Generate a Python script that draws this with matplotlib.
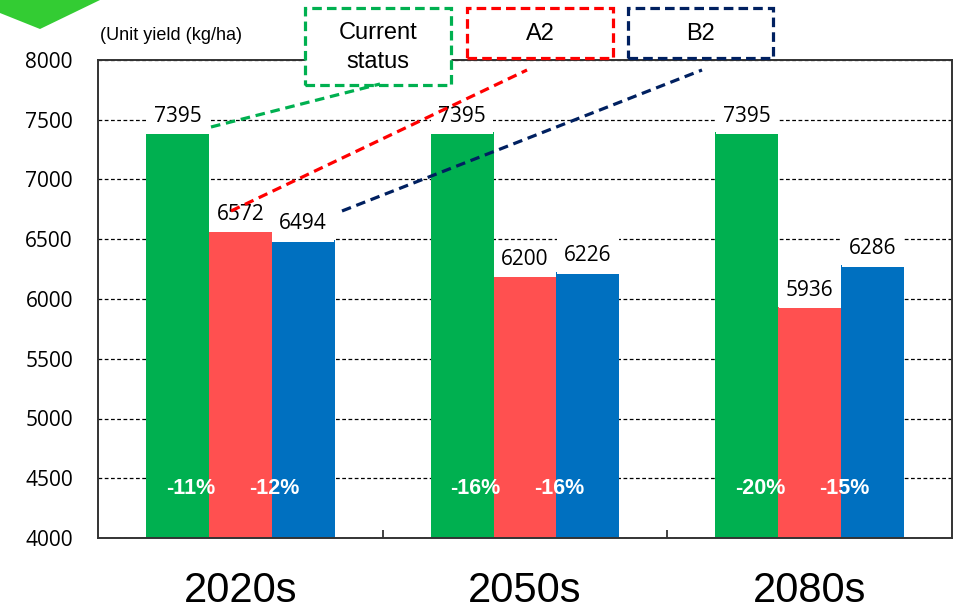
import matplotlib
matplotlib.use("Agg")
import matplotlib.pyplot as plt
from matplotlib.patches import Rectangle, Polygon
from matplotlib.lines import Line2D
import numpy as np

# rice unit yield per scenario (kg/ha)
periods = ["2020s", "2050s", "2080s"]
current = [7395, 7395, 7395]
a2 = [6572, 6200, 5936]
b2 = [6494, 6226, 6286]
yticks = [4000, 4500, 5000, 5500, 6000, 6500, 7000, 7500, 8000]

GREEN = "#00B050"
RED = "#FF5050"
BLUE = "#0070C0"

W, H = 957, 613
fig = plt.figure(figsize=(W / 100, H / 100), dpi=100)
ax = fig.add_axes([98 / W, 1 - 538 / H, 854 / W, 478 / H])


def px(x, y):
    # pixel position (from top-left) -> figure fraction
    return x / W, 1 - y / H


x = np.arange(len(periods)) + 0.5
bw = 0.221
series = [(current, GREEN, -bw), (a2, RED, 0), (b2, BLUE, bw)]
for vals, col, off in series:
    ax.bar(x + off, vals, width=bw, color=col, zorder=2)
    for xi, v in zip(x + off, vals):
        ax.annotate(str(v), (xi, v), xytext=(0, 4), textcoords="offset points",
                    ha="center", va="bottom", fontsize=15, family="Open Sans",
                    bbox=dict(boxstyle="square,pad=0.35", fc="white", ec="none"),
                    zorder=3)

# change from current status, written inside the bars
for xi, c, a, b in zip(x, current, a2, b2):
    pa = round((a - c) / c * 100)
    pb = round((b - c) / c * 100)
    for dx, p in [(-0.175, pa), (0.12, pb)]:
        ax.text(xi + dx, 4418, f"{p}%", ha="center", va="center", color="white",
                fontsize=15.5, fontweight="bold", family="Liberation Sans", zorder=4)

ax.set_xlim(0, 3)
ax.set_ylim(4000, 8000)
ax.set_yticks(yticks)
ax.set_yticklabels([str(t) for t in yticks], fontsize=15, family="Open Sans")
ax.set_xticks(x)
ax.set_xticklabels(periods, fontsize=30, family="Liberation Sans")
ax.set_xticks([1, 2], minor=True)
ax.tick_params(axis="y", length=0, pad=18)
ax.tick_params(axis="x", which="major", length=0, pad=24)
ax.tick_params(axis="x", which="minor", direction="in", length=6, width=1.3, color="#333333")

ax.grid(axis="y", color="black", linestyle=(0, (3, 2)), linewidth=0.9, zorder=1)
ax.set_axisbelow(True)
for s in ax.spines.values():
    s.set_color("#333333")
    s.set_linewidth(1.4)

fig.text(*px(100, 35), "(Unit yield (kg/ha)", fontsize=13, family="Liberation Sans",
         ha="left", va="center")

# green marker in the corner
fig.add_artist(Polygon([px(0, 0), px(100, 0), px(40, 29), px(0, 13)],
                       closed=True, transform=fig.transFigure, fc="#33CC33", ec="none"))

# legend boxes with leader lines
boxes = [
    ("Current\nstatus", "#00B050", (305, 8, 451, 85), [(211, 127), (380, 84)]),
    ("A2", "#FF0000", (467, 8, 613, 58), [(231, 211), (527, 70)]),
    ("B2", "#002060", (628, 8, 773, 58), [(342, 211), (702, 70)]),
]
for label, col, (x0, y0, x1, y1), line in boxes:
    fx0, fy1 = px(x0, y0)
    fx1, fy0 = px(x1, y1)
    fig.add_artist(Rectangle((fx0, fy0), fx1 - fx0, fy1 - fy0, transform=fig.transFigure,
                             fc="white", ec=col, lw=2.3, linestyle=(0, (3, 1.6)), zorder=5))
    fig.text((fx0 + fx1) / 2, (fy0 + fy1) / 2 - 0.002, label, ha="center", va="center",
             fontsize=17, family="Liberation Sans", linespacing=1.4, zorder=6)
    (lx0, ly0), (lx1, ly1) = px(*line[0]), px(*line[1])
    fig.add_artist(Line2D([lx0, lx1], [ly0, ly1], transform=fig.transFigure, color=col,
                          lw=2.3, linestyle=(0, (3, 1.8)), zorder=5))

fig.savefig("out.png", dpi=100)
